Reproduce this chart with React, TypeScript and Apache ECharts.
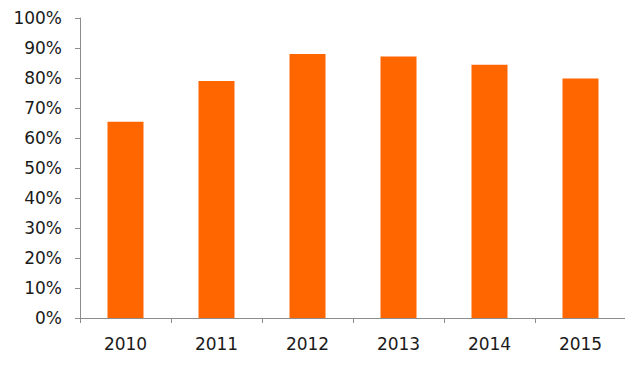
import React, { useEffect, useRef } from "react";
import * as echarts from "echarts";

const categories = ["2010", "2011", "2012", "2013", "2014", "2015"];
const values = [65.4, 79, 88, 87.2, 84.4, 79.8];
const yTicks = [0, 10, 20, 30, 40, 50, 60, 70, 80, 90, 100];

export default function App() {
  const ref = useRef<HTMLDivElement>(null);
  useEffect(() => {
    if (!ref.current) return;
    const chart = echarts.init(ref.current, null, { renderer: "svg" });
    chart.setOption({
      animation: false,
      grid: { left: 72, right: 7, top: 10, bottom: 52, containLabel: false },
      xAxis: {
        type: "category",
        data: categories,
        axisLine: { lineStyle: { color: "#8c8c8c", width: 1 } },
        axisTick: { show: true, length: 5, lineStyle: { color: "#8c8c8c" } },
        axisLabel: { color: "#1a1a1a", fontSize: 17, fontFamily: "DejaVu Sans", margin: 17 },
      },
      yAxis: {
        type: "value",
        min: 0,
        max: 100,
        interval: 10,
        axisLine: { show: true, lineStyle: { color: "#8c8c8c", width: 1 } },
        axisTick: { show: true, length: 5, lineStyle: { color: "#8c8c8c" } },
        splitLine: { show: false },
        axisLabel: {
          color: "#1a1a1a",
          fontSize: 17,
          fontFamily: "DejaVu Sans",
          margin: 18,
          formatter: (v: number) => (yTicks.includes(v) ? v + "%" : ""),
        },
      },
      series: [
        {
          type: "bar",
          data: values,
          barWidth: 36,
          itemStyle: { color: "#FF6600" },
        },
      ],
    });
    return () => chart.dispose();
  }, []);
  return <div ref={ref} style={{ width: 625, height: 362 }} />;
}
